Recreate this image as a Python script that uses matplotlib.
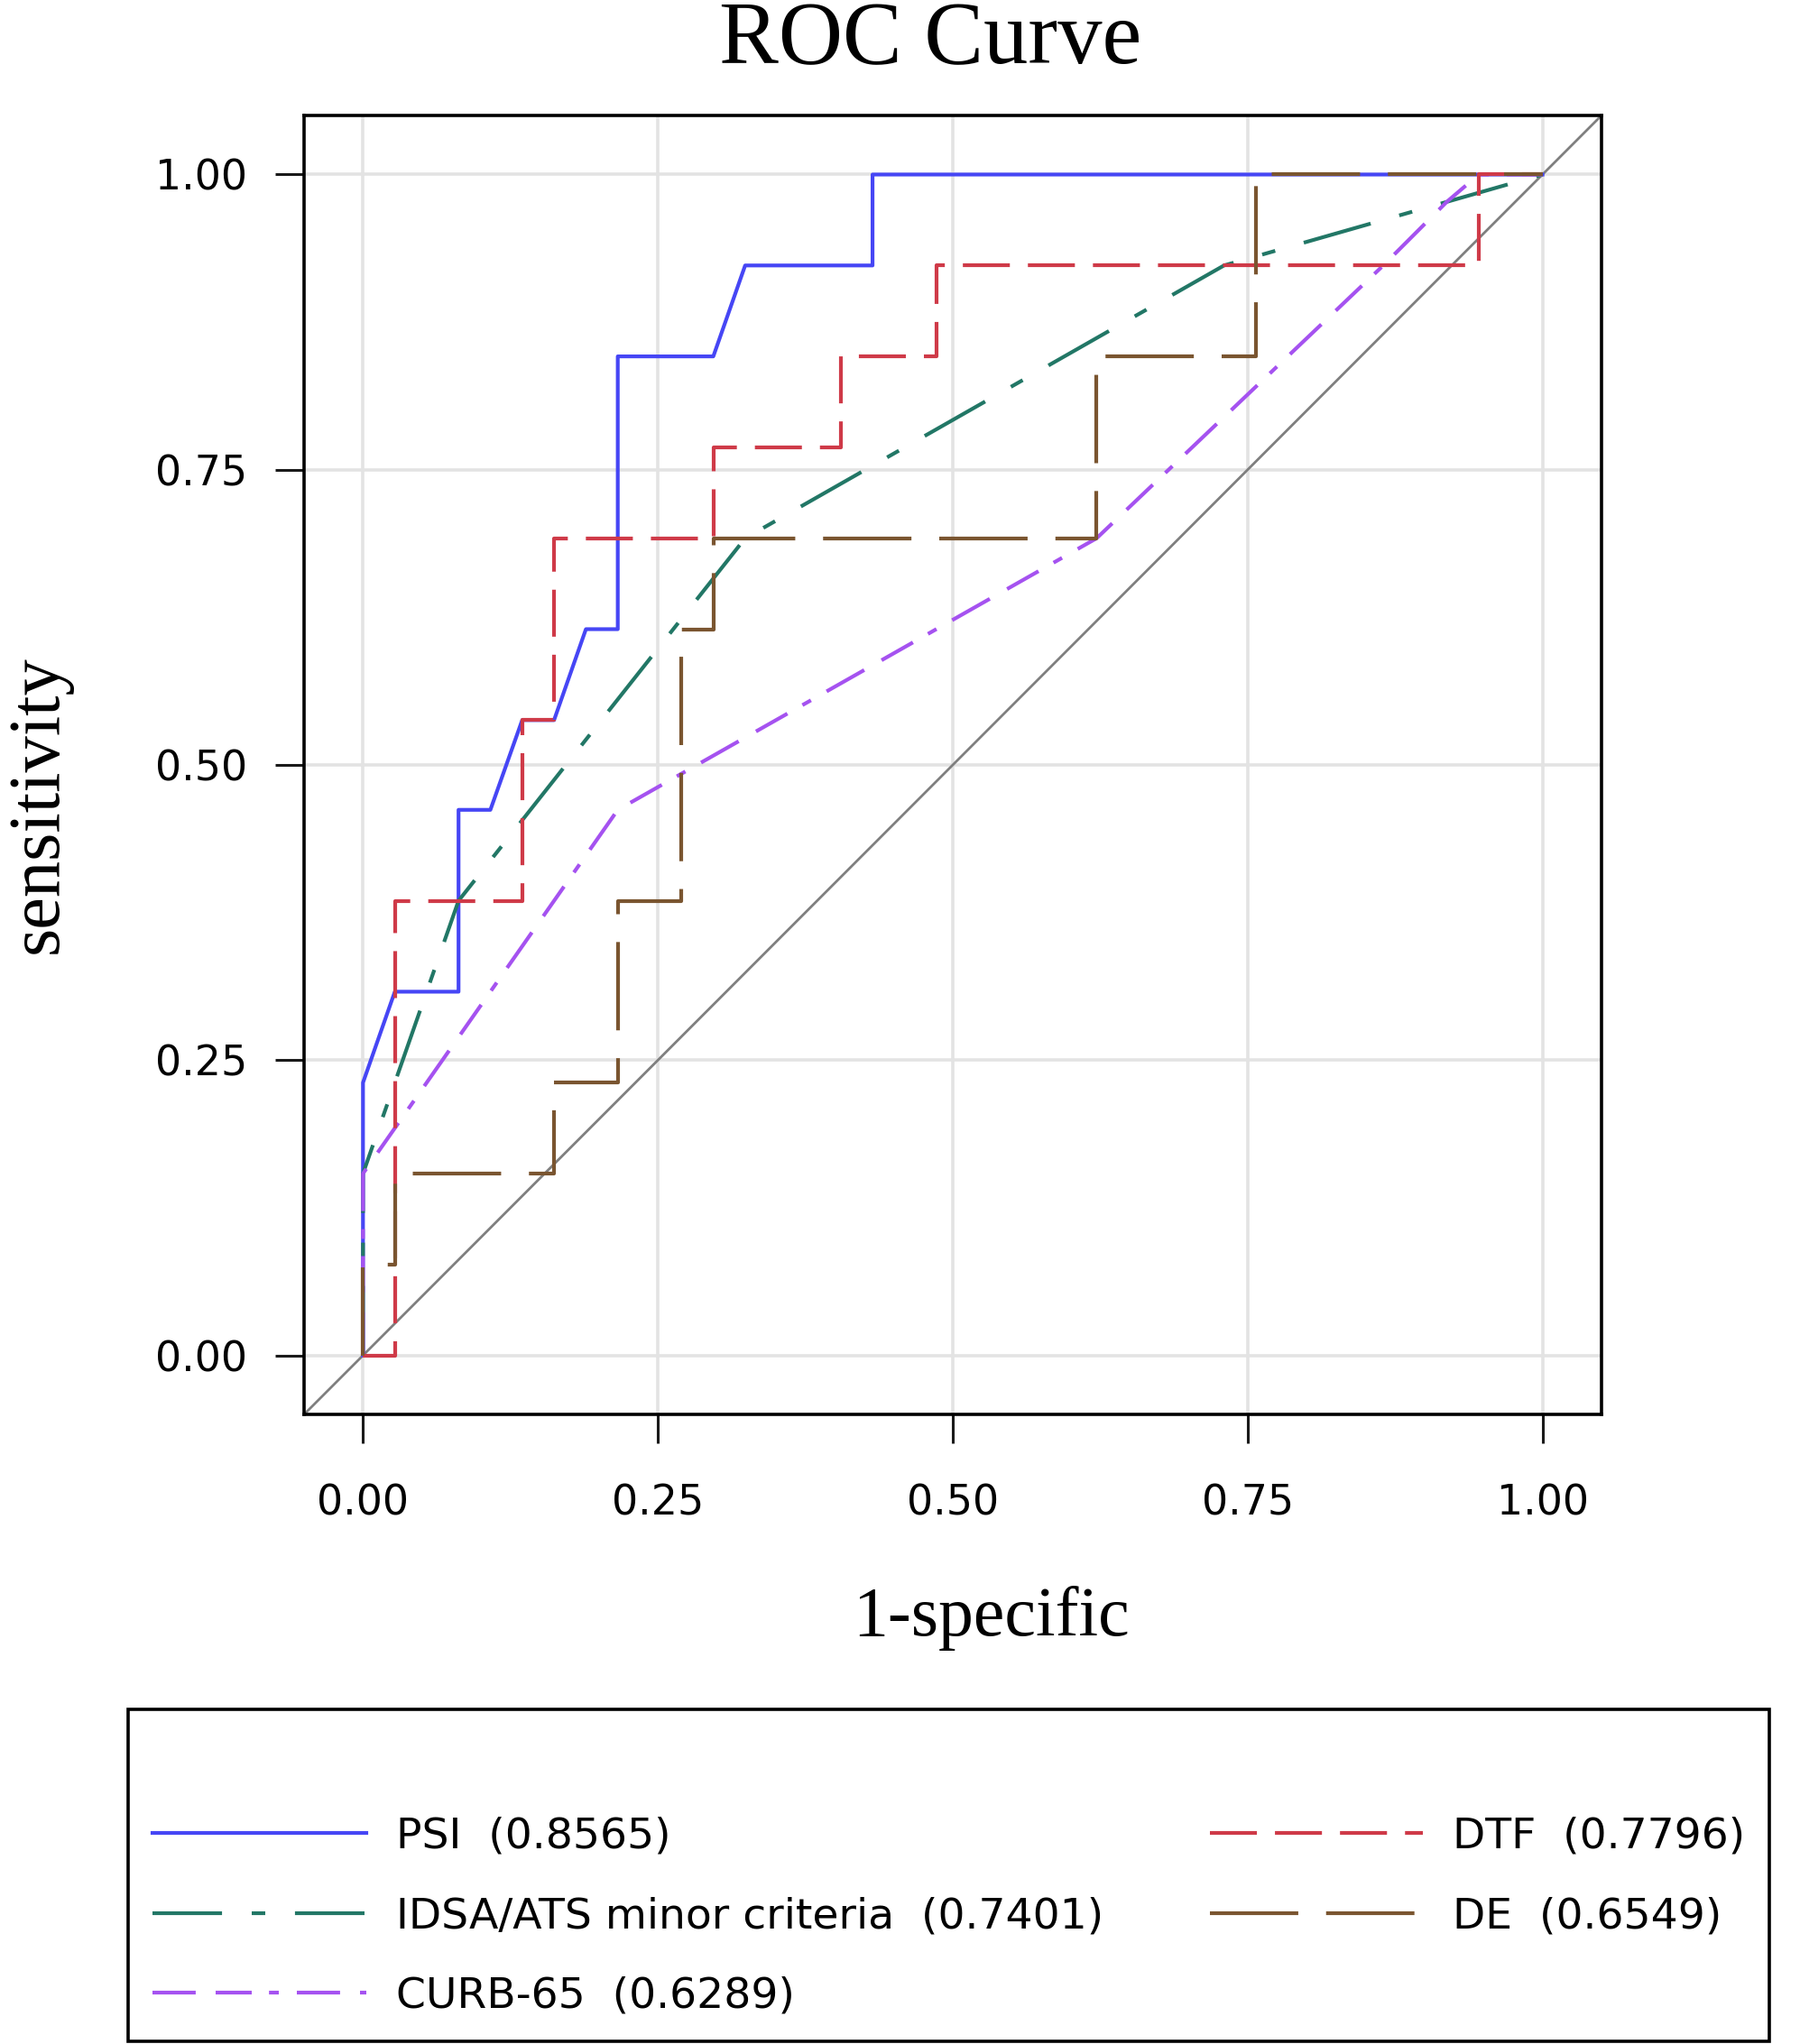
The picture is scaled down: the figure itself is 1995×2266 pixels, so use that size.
import numpy as np
import matplotlib.pyplot as plt
from matplotlib.ticker import FormatStrFormatter

# ROC points (x = 1-specificity, y = sensitivity)
psi_x = [0, 0, 0.027, 0.081, 0.081, 0.108, 0.135, 0.162, 0.189, 0.216, 0.216,
         0.297, 0.324, 0.432, 0.432, 1.0]
psi_y = [0, 0.231, 0.308, 0.308, 0.462, 0.462, 0.538, 0.538, 0.615, 0.615, 0.846,
         0.846, 0.923, 0.923, 1.0, 1.0]

dtf_x = [0, 0.027, 0.027, 0.135, 0.135, 0.162, 0.162, 0.297, 0.297, 0.405, 0.405,
         0.486, 0.486, 0.946, 0.946, 1.0]
dtf_y = [0, 0, 0.385, 0.385, 0.538, 0.538, 0.692, 0.692, 0.769, 0.769, 0.846,
         0.846, 0.923, 0.923, 1.0, 1.0]

de_x = [0, 0, 0.027, 0.027, 0.162, 0.162, 0.216, 0.216, 0.270, 0.270, 0.297,
        0.297, 0.622, 0.622, 0.757, 0.757, 1.0]
de_y = [0, 0.077, 0.077, 0.154, 0.154, 0.231, 0.231, 0.385, 0.385, 0.615, 0.615,
        0.692, 0.692, 0.846, 0.846, 1.0, 1.0]

idsa_x = [0, 0, 0.081, 0.324, 0.730, 1.0]
idsa_y = [0, 0.154, 0.385, 0.692, 0.923, 1.0]

curb_x = [0, 0, 0.216, 0.622, 0.865, 0.919, 0.946, 1.0]
curb_y = [0, 0.154, 0.462, 0.692, 0.923, 0.977, 1.0, 1.0]

labels = ['PSI  (0.8565)', 'IDSA/ATS minor criteria  (0.7401)', 'CURB-65  (0.6289)',
          'DTF  (0.7796)', 'DE  (0.6549)']
ticks = [0, 0.25, 0.5, 0.75, 1.0]

serif = 'Liberation Serif'
sans = 'DejaVu Sans'

fig = plt.figure(figsize=(19.95, 22.66), dpi=100)
ax = fig.add_axes([0.1689, 0.308, 0.7208, 0.6355])

ax.axline((0, 0), slope=1, color='#7f7f7f', lw=2.0, zorder=1)

lw = 3.0
h_psi, = ax.plot(psi_x, psi_y, color='#4646f5', lw=lw, label=labels[0])
h_idsa, = ax.plot(idsa_x, idsa_y, color='#227766', lw=lw,
                  linestyle=(0, (18.5, 7.9, 3.6, 7.9)), label=labels[1])
h_curb, = ax.plot(curb_x, curb_y, color='#a552f0', lw=lw,
                  linestyle=(0, (11.5, 5.3, 9.6, 4.6, 2.6, 4.8)), label=labels[2])
h_dtf, = ax.plot(dtf_x, dtf_y, color='#cf3a48', lw=lw,
                 linestyle=(0, (12.5, 4.8)), label=labels[3])
h_de, = ax.plot(de_x, de_y, color='#7a5530', lw=lw,
                linestyle=(0, (23.5, 7.4)), label=labels[4])

ax.set_xlim(-0.05, 1.05)
ax.set_ylim(-0.05, 1.05)
ax.set_xticks(ticks)
ax.set_yticks(ticks)
ax.xaxis.set_major_formatter(FormatStrFormatter('%.2f'))
ax.yaxis.set_major_formatter(FormatStrFormatter('%.2f'))
ax.grid(True, color='#e3e3e3', lw=2.6)
ax.set_axisbelow(True)
for s in ax.spines.values():
    s.set_linewidth(2.6)
ax.tick_params(axis='both', direction='out', length=23, width=2.2, color='#1a1a1a',
               labelsize=33)
ax.tick_params(axis='x', pad=32)
ax.tick_params(axis='y', pad=22)
for t in ax.get_xticklabels() + ax.get_yticklabels():
    t.set_fontfamily(sans)

fig.text(0.5168, 1 - 70 / 2266, 'ROC Curve', fontsize=71, family=serif,
         ha='center', va='baseline')
fig.text(0.5504, 1 - 1813 / 2266, '1-specific', fontsize=56, family=serif,
         ha='center', va='baseline')
fig.text(63 / 1995, 1 - 892 / 2266, 'sensitivity', fontsize=58, family=serif,
         rotation=90, rotation_mode='anchor', ha='center', va='baseline')

leg = ax.legend(handles=[h_psi, h_idsa, h_curb, h_dtf, h_de], ncol=2,
                loc='upper left', bbox_to_anchor=(142 / 1995, 1 - 1895 / 2266),
                bbox_transform=fig.transFigure, borderaxespad=0,
                prop={'family': sans, 'size': 34}, title=' ', title_fontsize=35,
                handlelength=5.0, handletextpad=0.7, columnspacing=2.5,
                labelspacing=0.92, borderpad=0.58, fancybox=False, framealpha=1)
leg.get_frame().set_edgecolor('black')
leg.get_frame().set_linewidth(2.6)

fig.savefig('out.png', dpi=100)
